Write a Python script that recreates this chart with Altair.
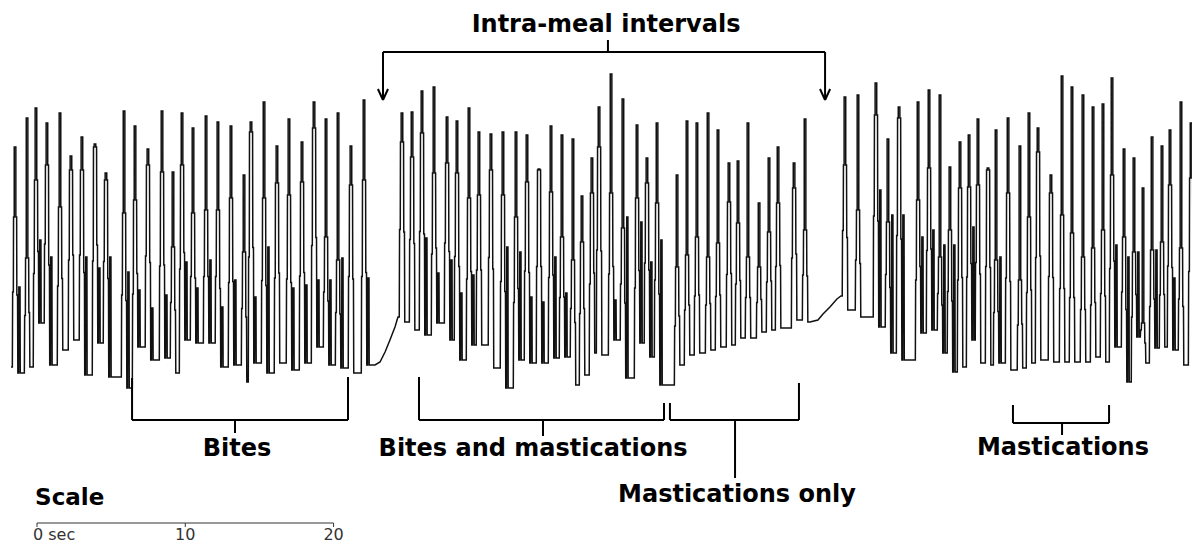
import altair as alt
import pandas as pd

# ---------------- data ----------------
# time in seconds (scale bar: 0 / 10 / 20 sec), amplitude in arbitrary units
start_t = [-1.75]
start_a = [33]

# meal bout 1
seg1_t = [-1.48, -0.67, -0.07, 0.67, 1.55, 2.29, 3.03, 3.91, 4.65, 5.87, 6.61, 7.48, 8.43, 9.17, 9.78,
          10.52, 11.40, 12.20, 13.08, 13.96, 14.43, 15.31, 16.18, 16.99, 17.87, 18.68, 19.49, 20.30, 21.17, 22.05]
seg1_peak = [253, 282, 292, 277, 287, 244, 263, 256, 227, 289, 274, 251, 289, 228, 287,
             272, 284, 278, 274, 225, 278, 298, 254, 281, 258, 298, 281, 287, 254, 300]
seg1_shoulder = [183, 142, 220, 235, 193, 230, 230, 253, 220, 187, 200, 235, 228, 153, 235,
                 187, 190, 190, 202, 148, 268, 202, 217, 205, 218, 272, 163, 140, 215, 220]
seg1_bump = [113, None, 160, 143, None, None, 143, 132, 143, 128, 110, 92, 105, None, 138,
             112, 140, 93, 120, None, 103, 153, None, 112, 115, 120, 120, 142, None, 122]
seg1_trough = [27, 33, 77, 35, 50, 60, 25, 57, 23, 12, 53, 40, 42, 27, 60,
               57, 57, 33, 35, 18, 37, 27, 37, 30, 37, 53, 35, 32, 27, 35]

# intra-meal interval 1
pause1_t = [22.79, 23.13, 23.47, 23.80, 24.14, 24.34]
pause1_a = [35, 38, 48, 60, 73, 83]

# meal bout 2
seg2_t = [24.61, 25.29, 25.96, 26.77, 27.65, 28.32, 29.13, 29.80, 30.61, 31.42, 32.30, 33.04, 33.85,
          34.66, 35.40, 36.14, 36.75, 37.42, 37.90, 38.71, 39.51, 40.46, 41.13, 41.81, 43.16, 43.83,
          44.50, 45.25, 45.92, 46.66, 47.27, 47.94, 48.69, 49.36, 49.97, 51.05, 51.79]
seg2_peak = [287, 288, 309, 313, 283, 279, 292, 268, 266, 268, 268, 265, 231,
             274, 265, 261, 204, 242, 293, 326, 301, 275, 242, 277, 225, 279,
             277, 287, 270, 237, 239, 277, 197, 242, 253, 237, 281]
seg2_shoulder = [258, 243, 267, 227, 237, 227, 202, 205, 230, 205, 183, 218, 230,
                 208, 163, 140, 158, 207, 253, 207, 172, 202, 217, 197, 133, 145,
                 163, 143, 157, 198, 177, 143, 133, 168, 197, 212, 170]
seg2_bump = [None, None, 162, 127, 140, 107, 125, None, None, 153, 148, 103, 98,
             143, 107, None, None, None, None, 100, 183, 178, 138, 160, None, None,
             None, None, None, None, None, None, None, None, None, None, None]
seg2_trough = [78, 70, 65, 77, 60, 40, 55, 55, 32, 12, 40, 37, 37,
               42, 43, 15, 25, 47, 45, 60, 22, 57, 43, 15, 35, 45,
               47, 50, 53, 55, 62, 62, 68, 70, 72, 80, 78]

# intra-meal interval 2
pause2_t = [52.12, 52.66, 53.00, 53.47, 53.94, 54.21]
pause2_a = [78, 80, 86, 93, 101, 104]

# meal bout 3
seg3_t = [54.48, 55.36, 56.57, 57.38, 58.13, 59.41, 60.15, 60.89, 61.56, 62.24, 62.85, 63.45, 64.13,
          64.67, 65.48, 66.28, 66.89, 67.50, 68.37, 69.12, 69.79, 70.53, 71.21, 71.88, 72.49, 73.30,
          73.97, 74.58, 75.19, 75.86, 76.40, 77.14, 77.82]
seg3_peak = [303, 305, 317, 261, 293, 298, 310, 305, 233, 258, 265, 281, 232,
             270, 282, 254, 287, 272, 225, 324, 313, 305, 293, 296, 322, 251,
             242, 212, 263, 254, 270, 298, 277]
seg3_shoulder = [235, 190, 285, 178, 282, 200, 232, 143, 170, 212, 213, 215, 230,
                 140, 207, 120, 183, 248, 207, 185, 167, 143, 152, 170, 225, 163,
                 148, 77, 150, 158, 215, 152, 222]
seg3_bump = [None, None, 210, 185, 185, 163, 170, 155, 155, None, 173, None, None,
             143, None, None, None, None, None, None, None, None, None, None, 155, 143,
             148, None, 150, None, 122, None, 115]
seg3_trough = [90, 83, 73, 47, 40, 67, 70, 47, 28, 33, 60, 37, 35,
               37, 30, 32, 37, 40, 38, 38, 38, 38, 43, 38, 53, 18,
               63, 37, 52, 53, 50, 35, 67]

# annotation labels
title_text = ["Intra-meal intervals"]
bracket_labels = ["Bites", "Bites and mastications", "Mastications only", "Mastications"]
scale_ticks = [0, 10, 20]
scale_labels = ["0 sec", "10", "20"]

# ---------------- build the trace ----------------
W = 1 / 14.83  # width of one drawn sample step, seconds


def build(ts, peaks, shoulders, bumps, troughs, prev):
    pts = []
    for tp, p, s, b, tr in zip(ts, peaks, shoulders, bumps, troughs):
        m1 = (prev + s) / 2
        m2 = (s + tr) / 2
        pts += [(tp - 2.7 * W, prev), (tp - 2.4 * W, m1), (tp - 1.7 * W, m1), (tp - 1.5 * W, s),
                (tp - 0.8 * W, s), (tp - 0.8 * W, p), (tp + 0.8 * W, p), (tp + 0.8 * W, s),
                (tp + 1.6 * W, s), (tp + 1.8 * W, m2), (tp + 2.5 * W, m2), (tp + 2.8 * W, tr)]
        if b is not None:
            pts += [(tp + 3.6 * W, tr), (tp + 3.8 * W, b), (tp + 5.0 * W, b), (tp + 5.2 * W, tr)]
        prev = tr
    return pts


pts = list(zip(start_t, start_a))
pts += build(seg1_t, seg1_peak, seg1_shoulder, seg1_bump, seg1_trough, start_a[-1])
pts += list(zip(pause1_t, pause1_a))
pts += build(seg2_t, seg2_peak, seg2_shoulder, seg2_bump, seg2_trough, pause1_a[-1])
pts += list(zip(pause2_t, pause2_a))
pts += build(seg3_t, seg3_peak, seg3_shoulder, seg3_bump, seg3_trough, pause2_a[-1])

trace = pd.DataFrame({"t": [p[0] for p in pts], "a": [p[1] for p in pts], "i": range(len(pts))})

xs = alt.Scale(domain=[-1.955, 77.883], nice=False, zero=False)
ys = alt.Scale(domain=[-143, 392], nice=False, zero=False)
X = alt.X("t:Q", scale=xs, axis=None)
Y = alt.Y("a:Q", scale=ys, axis=None)

line = alt.Chart(trace).mark_line(color="#111111", strokeWidth=1.5, clip=True,
                                  strokeJoin="miter").encode(x=X, y=Y, order=alt.Order("i:Q"))

# brackets and arrows
rules = pd.DataFrame([
    # intra-meal interval bracket
    (23.33, 348, 53.14, 348), (38.50, 360, 38.50, 348),
    (23.33, 348, 23.33, 300), (53.14, 348, 53.14, 300),
    (22.99, 311, 23.33, 300), (23.67, 311, 23.33, 300),
    (52.80, 311, 53.14, 300), (53.48, 311, 53.14, 300),
    # bites
    (6.41, 22, 6.41, -20), (20.97, 23, 20.97, -20), (6.41, -20, 20.97, -20), (13.35, -20, 13.35, -33),
    # bites and mastications
    (25.76, 23, 25.76, -20), (42.28, -3, 42.28, -20), (25.76, -20, 42.28, -20), (34.12, -20, 34.12, -36),
    # mastications only
    (42.68, -3, 42.68, -20), (51.38, 17, 51.38, -20), (42.68, -20, 51.38, -20), (47.07, -20, 47.07, -78),
    # mastications
    (65.81, -5, 65.81, -23), (72.29, -5, 72.29, -23), (65.81, -23, 72.29, -23), (69.12, -23, 69.12, -35),
], columns=["t", "a", "t2", "a2"])

bracket = alt.Chart(rules).mark_rule(color="black", strokeWidth=2).encode(
    x=X, y=Y, x2="t2:Q", y2="a2:Q")

labels = pd.DataFrame({
    "label": title_text + bracket_labels,
    "t": [38.37, 13.49, 33.45, 47.20, 69.18],
    "a": [368, -56, -56, -102, -55],
})
label_text = alt.Chart(labels).mark_text(font="DejaVu Sans", fontWeight="bold", fontSize=24,
                                         align="center", baseline="alphabetic", color="black").encode(
    x=X, y=Y, text="label:N")

scale_title = alt.Chart(pd.DataFrame({"label": ["Scale"], "t": [-0.13], "a": [-105]})).mark_text(
    font="DejaVu Sans", fontWeight="bold", fontSize=23, align="left", baseline="alphabetic",
    color="black").encode(x=X, y=Y, text="label:N")

scale_line = alt.Chart(pd.DataFrame({"t": [scale_ticks[0]], "t2": [scale_ticks[-1]], "a": [-123], "a2": [-123]})
                       ).mark_rule(color="#333333", strokeWidth=1).encode(x=X, x2="t2:Q", y=Y, y2="a2:Q")
scale_tick = alt.Chart(pd.DataFrame({"t": scale_ticks, "t2": scale_ticks, "a": [-123] * 3, "a2": [-127] * 3})
                       ).mark_rule(color="#333333", strokeWidth=1).encode(x=X, x2="t2:Q", y=Y, y2="a2:Q")

scale_lab_df = pd.DataFrame({"label": scale_labels, "t": [-0.27, 10, 20], "a": [-140] * 3})
scale_lab0 = alt.Chart(scale_lab_df.iloc[:1]).mark_text(
    font="DejaVu Sans", fontSize=16, align="left", baseline="alphabetic", color="#333333").encode(
    x=X, y=Y, text="label:N")
scale_lab1 = alt.Chart(scale_lab_df.iloc[1:]).mark_text(
    font="DejaVu Sans", fontSize=16, align="center", baseline="alphabetic", color="#333333").encode(
    x=X, y=Y, text="label:N")

chart = alt.layer(line, bracket, label_text, scale_title, scale_line, scale_tick, scale_lab0, scale_lab1
                  ).properties(width=1184, height=535, padding=0,
                               autosize=alt.AutoSizeParams(type="none")
                  ).configure(background="white").configure_view(stroke=None)

chart.save("out.html", embed_options={"renderer": "svg", "actions": False})
